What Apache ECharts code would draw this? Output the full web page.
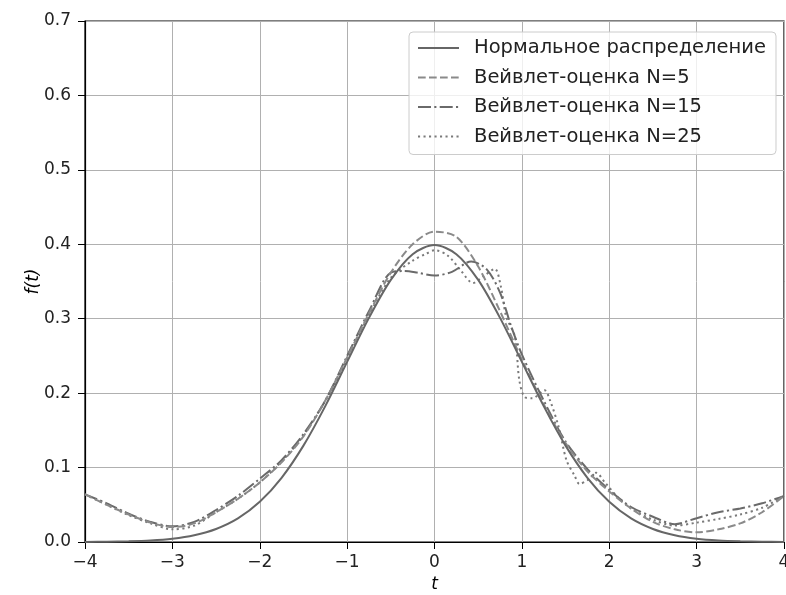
<!DOCTYPE html>
<html>
<head>
<meta charset="utf-8">
<script src="https://cdn.jsdelivr.net/npm/echarts@6/dist/echarts.min.js"></script>
<style>
html,body{margin:0;padding:0;background:#fff;}
#chart{width:786px;height:595px;}
</style>
</head>
<body>
<div id="chart"></div>
<script>
const seriesNames = ['Нормальное распределение','Вейвлет-оценка N=5','Вейвлет-оценка N=15','Вейвлет-оценка N=25'];
const xTicks = [-4,-3,-2,-1,0,1,2,3,4];
const yTicks = [0,0.1,0.2,0.3,0.4,0.5,0.6,0.7];

const tNormal = [-4,-3.75,-3.5,-3.25,-3,-2.75,-2.5,-2.25,-2,-1.75,-1.5,-1.25,-1,-0.75,-0.5,-0.25,0,0.25,0.5,0.75,1,1.25,1.5,1.75,2,2.25,2.5,2.75,3,3.25,3.5,3.75,4];
const fNormal = [0.0001,0.0004,0.0009,0.002,0.0044,0.0091,0.0175,0.0317,0.054,0.0863,0.1295,0.1826,0.242,0.3011,0.3521,0.3867,0.3989,0.3867,0.3521,0.3011,0.242,0.1826,0.1295,0.0863,0.054,0.0317,0.0175,0.0091,0.0044,0.002,0.0009,0.0004,0.0001];

const tN5 = [-4,-3.75,-3.5,-3.25,-3,-2.75,-2.5,-2.25,-2,-1.75,-1.5,-1.25,-1,-0.75,-0.5,-0.25,0,0.25,0.5,0.75,1,1.25,1.5,1.75,2,2.25,2.5,2.75,3,3.25,3.5,3.75,4];
const fN5 = [0.064,0.05,0.037,0.026,0.02,0.025,0.04,0.058,0.08,0.107,0.142,0.19,0.248,0.307,0.362,0.4,0.417,0.41,0.37,0.31,0.245,0.185,0.133,0.095,0.068,0.045,0.027,0.017,0.013,0.017,0.025,0.04,0.062];

const tN15 = [-4,-3.75,-3.5,-3.25,-3,-2.75,-2.5,-2.25,-2,-1.75,-1.5,-1.25,-1,-0.75,-0.5,-0.35,-0.2,0,0.2,0.42,0.6,0.75,0.88,1,1.25,1.5,1.75,2,2.25,2.5,2.75,3,3.25,3.5,3.75,4];
const fN15 = [0.064,0.052,0.038,0.027,0.021,0.027,0.043,0.062,0.085,0.11,0.145,0.19,0.25,0.31,0.362,0.364,0.362,0.358,0.363,0.377,0.366,0.335,0.289,0.252,0.19,0.135,0.098,0.07,0.047,0.034,0.024,0.032,0.04,0.045,0.052,0.062];

const tN25 = [-4,-3.75,-3.5,-3.25,-3,-2.75,-2.5,-2.25,-2,-1.75,-1.5,-1.25,-1,-0.75,-0.5,-0.25,-0.1,0,0.15,0.3,0.44,0.56,0.69,0.76,0.82,0.92,0.97,1.03,1.12,1.26,1.32,1.42,1.51,1.6,1.66,1.75,1.85,1.95,2.1,2.25,2.5,2.75,3,3.25,3.5,3.75,4];
const fN25 = [0.064,0.05,0.036,0.025,0.017,0.022,0.04,0.058,0.08,0.108,0.143,0.19,0.245,0.305,0.355,0.378,0.387,0.392,0.385,0.365,0.348,0.357,0.367,0.343,0.303,0.276,0.218,0.195,0.193,0.204,0.191,0.155,0.11,0.09,0.078,0.083,0.093,0.08,0.06,0.045,0.03,0.022,0.026,0.031,0.037,0.046,0.062];

function pairs(ts, fs){ return ts.map((t,i)=>[t,fs[i]]); }
const FONT = 'DejaVu Sans';
const chart = echarts.init(document.getElementById('chart'), null, {renderer:'canvas'});

const styles = [
  {color:'#666666', type:'solid'},
  {color:'#8a8a8a', type:[7.7,3.3]},
  {color:'#6a6a6a', type:[13,3.3,2.1,3.3]},
  {color:'#7a7a7a', type:[2.1,3.4]}
];
const datas = [pairs(tNormal,fNormal), pairs(tN5,fN5), pairs(tN15,fN15), pairs(tN25,fN25)];

chart.setOption({
  animation:false,
  backgroundColor:'#fff',
  grid:{left:85, right:2, top:21, bottom:53, outerBoundsMode:'none', containLabel:false,
        show:true, borderColor:'#000', borderWidth:1.2, backgroundColor:'transparent'},
  legend:{
    orient:'vertical', left:409, top:32,
    data:seriesNames,
    itemWidth:41, itemHeight:14, itemGap:9.5,
    itemStyle:{opacity:0},
    textStyle:{fontFamily:FONT, fontSize:19.5, color:'#222', padding:[0,0,0,10]},
    backgroundColor:'rgba(255,255,255,0.8)', borderColor:'#cccccc', borderWidth:1, borderRadius:4,
    padding:[6,10,8,8]
  },
  xAxis:{
    type:'value', min:-4, max:4, interval:1,
    name:'t', nameLocation:'middle', nameGap:34,
    nameTextStyle:{fontFamily:FONT, fontSize:17, fontStyle:'italic', color:'#000'},
    axisLine:{onZero:false, lineStyle:{color:'#000', width:1.2}},
    axisTick:{show:true, length:7, lineStyle:{color:'#000', width:1}},
    axisLabel:{fontFamily:FONT, fontSize:17, color:'#222', margin:12, formatter:v=>String(v).replace('-','\u2212')},
    splitLine:{show:true, lineStyle:{color:'#b0b0b0', width:1}}
  },
  yAxis:{
    type:'value', min:0, max:0.7, interval:0.1,
    name:'f(t)', nameLocation:'middle', nameGap:43, nameMoveOverlap:false,
    nameTextStyle:{fontFamily:FONT, fontSize:17, fontStyle:'italic', color:'#000'},
    axisLine:{show:true, onZero:false, lineStyle:{color:'#000', width:1.2}},
    axisTick:{show:true, length:7, lineStyle:{color:'#000', width:1}},
    axisLabel:{fontFamily:FONT, fontSize:17, color:'#222', margin:14, formatter:v=>v.toFixed(1)},
    splitLine:{show:true, lineStyle:{color:'#b0b0b0', width:1}}
  },
  series: seriesNames.map((n,i)=>({
    name:n, type:'line', data:datas[i], showSymbol:false, symbol:'none',
    smooth:0.3, clip:true,
    lineStyle:{color:styles[i].color, width:2, type:styles[i].type},
    itemStyle:{color:styles[i].color},
    z: 10-i
  }))
});
</script>
</body>
</html>
